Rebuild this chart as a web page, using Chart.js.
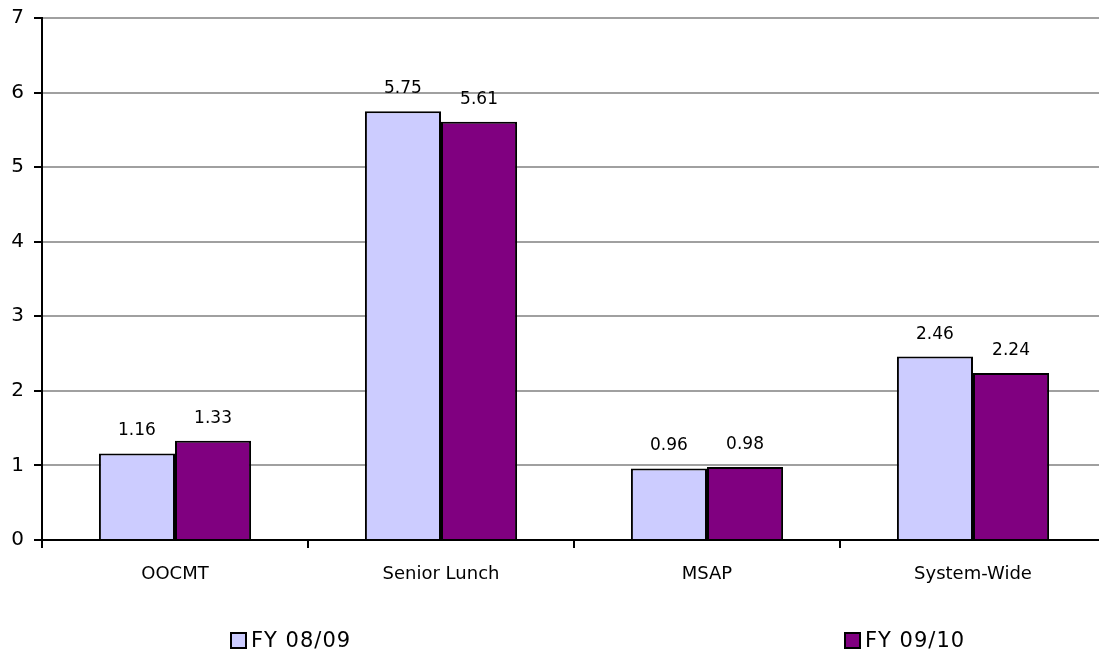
<!DOCTYPE html>
<html>
<head>
<meta charset="utf-8">
<script src="https://cdn.jsdelivr.net/npm/chart.js@4"></script>
<style>
  html, body { margin: 0; padding: 0; background: #fff; overflow: hidden; }
  #wrap { position: absolute; left: 0; top: 0; width: 1106px; height: 656px; }
  .legend { position: absolute; top: 629px; height: 22px; font: 21px "DejaVu Sans", sans-serif; letter-spacing: 1px; color: #000; display: flex; align-items: center; line-height: 22px; }
  .legend span.box { display: inline-block; width: 13px; height: 13px; border: 2px solid #000; margin-right: 4px; }
</style>
</head>
<body>
<div id="wrap"><canvas id="c"></canvas></div>
<div class="legend" style="left:230px"><span class="box" style="background:#CCCCFF"></span>FY 08/09</div>
<div class="legend" style="left:844px"><span class="box" style="background:#800080"></span>FY 09/10</div>
<script>
const categories = ['OOCMT', 'Senior Lunch', 'MSAP', 'System-Wide'];
const fy0809 = [1.16, 5.75, 0.96, 2.46];
const fy0910 = [1.33, 5.61, 0.98, 2.24];
const yTicks = [0, 1, 2, 3, 4, 5, 6, 7];

const FONT = '"DejaVu Sans", sans-serif';

// Writes each bar's value just above its top edge
const valueLabels = {
  id: 'valueLabels',
  afterDatasetsDraw(chart) {
    const ctx = chart.ctx;
    ctx.save();
    ctx.font = '17px ' + FONT;
    ctx.fillStyle = '#000';
    ctx.textAlign = 'center';
    ctx.textBaseline = 'alphabetic';
    chart.data.datasets.forEach((ds, i) => {
      chart.getDatasetMeta(i).data.forEach((bar, j) => {
        ctx.fillText(ds.data[j].toFixed(2), bar.x, bar.y - 18);
      });
    });
    ctx.restore();
  }
};

new Chart(document.getElementById('c'), {
  type: 'bar',
  data: {
    labels: categories,
    datasets: [
      { label: 'FY 08/09', data: fy0809, backgroundColor: '#CCCCFF', borderColor: '#000', borderWidth: 2, borderSkipped: 'bottom' },
      { label: 'FY 09/10', data: fy0910, backgroundColor: '#800080', borderColor: '#000', borderWidth: 2, borderSkipped: 'bottom' }
    ]
  },
  options: {
    responsive: true,
    maintainAspectRatio: false,
    animation: false,
    layout: { padding: { top: 10, left: 0, right: 0, bottom: 0 } },
    datasets: { bar: { categoryPercentage: 0.572, barPercentage: 1.0 } },
    plugins: { legend: { display: false }, tooltip: { enabled: false } },
    scales: {
      x: {
        grid: { offset: true, drawOnChartArea: false, tickLength: 8, tickColor: '#000', lineWidth: 2 },
        border: { color: '#000', width: 2 },
        ticks: { color: '#000', font: { family: FONT, size: 18 }, padding: 16, maxRotation: 0 },
        afterFit(scale) { scale.height = 116; }
      },
      y: {
        min: 0, max: 7,
        afterBuildTicks(scale) { scale.ticks = yTicks.map(v => ({ value: v })); },
        grid: { color: '#a0a0a0', lineWidth: 2, tickLength: 8, tickColor: '#000' },
        border: { color: '#000', width: 2 },
        ticks: { color: '#000', font: { family: FONT, size: 20, lineHeight: 0.8 }, padding: 10 },
        afterFit(scale) { scale.width = 42; }
      }
    }
  },
  plugins: [valueLabels]
});
</script>
</body>
</html>
